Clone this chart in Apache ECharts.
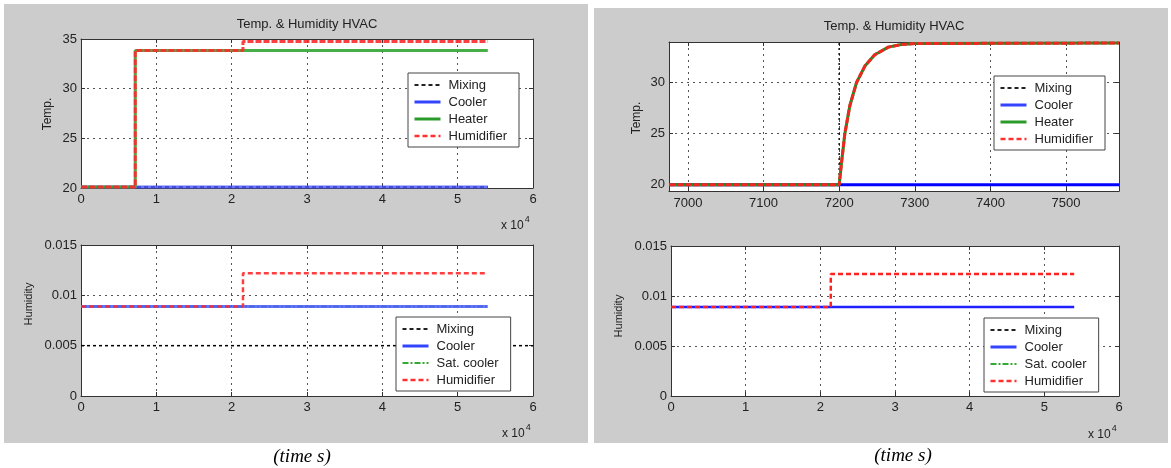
<!DOCTYPE html>
<html>
<head>
<meta charset="utf-8">
<script src="https://cdn.jsdelivr.net/npm/echarts@6/dist/echarts.min.js"></script>
<style>
html,body{margin:0;padding:0;background:#fff;}
#chart{width:1171px;height:468px;}
</style>
</head>
<body>
<div id="chart"></div>
<script>
// ---------- DATA ----------
// Left panel: full run (time in s)
const ltMixTime   = [0, 54000];
const ltMixTemp   = [20.1, 20.1];
const ltCoolTime  = [0, 54000];
const ltCoolTemp  = [20.1, 20.1];
const ltHeatTime  = [0, 7200, 7200, 54000];
const ltHeatTemp  = [20.1, 20.1, 33.85, 33.85];
const ltHumTime   = [0, 7200, 7200, 21500, 21500, 54000];
const ltHumTemp   = [20.1, 20.1, 33.85, 33.85, 34.75, 34.75];

const lbMixTime   = [0, 60000];
const lbMixHum    = [0.005, 0.005];
const lbCoolTime  = [0, 54000];
const lbCoolHum   = [0.0089, 0.0089];
const lbSatTime   = [0, 54000];
const lbSatHum    = [0.0089, 0.0089];
const lbHumTime   = [0, 21500, 21500, 54000];
const lbHumHum    = [0.0089, 0.0089, 0.0122, 0.0122];

// Right panel: zoom around heater start
const rtMixTime   = [6975, 7200, 7200, 7570];
const rtMixTemp   = [20.0, 20.0, 45, 45];
const rtCoolTime  = [6975, 7570];
const rtCoolTemp  = [20.0, 20.0];
const rtHeatTime  = [6975, 7200, 7203, 7207.5, 7214, 7223, 7234, 7247, 7265, 7282, 7300, 7570];
const rtHeatTemp  = [20.0, 20.0, 22.1, 25.0, 27.7, 30.0, 31.6, 32.7, 33.45, 33.7, 33.8, 33.85];
const rtHumTime   = [6975, 7200, 7203, 7207.5, 7214, 7223, 7234, 7247, 7265, 7282, 7300, 7570];
const rtHumTemp   = [20.0, 20.0, 22.1, 25.0, 27.7, 30.0, 31.6, 32.7, 33.45, 33.7, 33.8, 33.85];

const rbMixTime   = [0, 54000];
const rbMixHum    = [0.0089, 0.0089];
const rbCoolTime  = [0, 54000];
const rbCoolHum   = [0.0089, 0.0089];
const rbSatTime   = [0, 54000];
const rbSatHum    = [0.0089, 0.0089];
const rbHumTime   = [0, 21400, 21400, 54000];
const rbHumHum    = [0.0089, 0.0089, 0.0122, 0.0122];

// tick labels
const timeTicks1e4   = [0, 10000, 20000, 30000, 40000, 50000, 60000];
const zoomTimeTicks  = [7000, 7100, 7200, 7300, 7400, 7500];
const tempTicksLeft  = [20, 25, 30, 35];
const tempTicksRight = [20, 25, 30];
const humTicks       = [0, 0.005, 0.01, 0.015];

const titleText = 'Temp. & Humidity HVAC';
const legendTop = ['Mixing', 'Cooler', 'Heater', 'Humidifier'];
const legendBottom = ['Mixing', 'Cooler', 'Sat. cooler', 'Humidifier'];

// ---------- CHART ----------
const FONT = '"Liberation Sans", Arial, sans-serif';
const zip = (t, v) => t.map((x, i) => [x, v[i]]);
const chart = echarts.init(document.getElementById('chart'), null, {renderer: 'canvas'});

const grids = [
  {left: 81,  top: 39,  width: 452, height: 149},
  {left: 81,  top: 245, width: 452, height: 151},
  {left: 669, top: 42,  width: 450, height: 149},
  {left: 671, top: 246, width: 448, height: 150}
];

const gridLine = {show: true, lineStyle: {color: '#555', type: [2, 4], width: 1}};
const axLine = {show: true, onZero: false, lineStyle: {color: '#333', width: 1}};
const lblStyle = {color: '#222', fontFamily: FONT, fontSize: 13};

function xAxes(gi, min, max, ticks, fmt, margin) {
  const common = {
    type: 'value', gridIndex: gi, min: min, max: max,
    axisLine: axLine,
    axisTick: {show: true, inside: true, length: 4, customValues: ticks, lineStyle: {color: '#333'}},
  };
  return [
    Object.assign({}, common, {
      position: 'bottom',
      splitLine: gridLine,
      axisLabel: Object.assign({customValues: ticks, margin: margin, formatter: fmt}, lblStyle)
    }),
    Object.assign({}, common, {
      position: 'top',
      splitLine: {show: false},
      axisLabel: {show: false}
    })
  ];
}
function yAxes(gi, min, max, ticks, fmt) {
  const common = {
    type: 'value', gridIndex: gi, min: min, max: max,
    axisLine: axLine,
    axisTick: {show: true, inside: true, length: 4, customValues: ticks, lineStyle: {color: '#333'}},
  };
  return [
    Object.assign({}, common, {
      position: 'left',
      splitLine: gridLine,
      axisLabel: Object.assign({customValues: ticks, margin: 4, formatter: fmt}, lblStyle)
    }),
    Object.assign({}, common, {
      position: 'right',
      splitLine: {show: false},
      axisLabel: {show: false}
    })
  ];
}
const fmt1e4 = v => String(Math.round(v / 10000));
const fmtPlain = v => String(v);
const fmtHum = v => (v === 0 ? '0' : String(+v.toFixed(3)));

const xAxis = [].concat(
  xAxes(0, 0, 60000, timeTicks1e4, fmt1e4, 5),
  xAxes(1, 0, 60000, timeTicks1e4, fmt1e4, 5),
  xAxes(2, 6975, 7570, zoomTimeTicks, fmtPlain, 6),
  xAxes(3, 0, 60000, timeTicks1e4, fmt1e4, 5)
);
const yAxis = [].concat(
  yAxes(0, 20, 35, tempTicksLeft, fmtPlain),
  yAxes(1, 0, 0.015, humTicks, fmtHum),
  yAxes(2, 19.4, 33.95, tempTicksRight, fmtPlain),
  yAxes(3, 0, 0.015, humTicks, fmtHum)
);

function line(name, gi, data, color, width, type, opacity, z) {
  return {
    type: 'line', name: name, xAxisIndex: gi * 2, yAxisIndex: gi * 2,
    data: data, showSymbol: false, symbol: 'none', animation: false,
    lineStyle: {color: color, width: width, type: type, opacity: opacity == null ? 1 : opacity},
    itemStyle: {color: color},
    clip: true, z: z, silent: true
  };
}

const series = [
  // left top
  line('Mixing', 0, zip(ltMixTime, ltMixTemp), '#000', 2, [4, 3], 1, 2),
  line('Cooler', 0, zip(ltCoolTime, ltCoolTemp), '#4d5cff', 3, 'solid', 0.85, 3),
  line('Heater', 0, zip(ltHeatTime, ltHeatTemp), '#33a633', 3, 'solid', 0.9, 4),
  line('Humidifier', 0, zip(ltHumTime, ltHumTemp), '#ff2a2a', 3, [6, 2], 0.9, 5),
  // left bottom
  line('Mixing', 1, zip(lbMixTime, lbMixHum), '#000', 1.5, [3, 3], 1, 2),
  line('Sat. cooler', 1, zip(lbSatTime, lbSatHum), '#22aa22', 2, [6, 2, 2, 2], 1, 3),
  line('Cooler', 1, zip(lbCoolTime, lbCoolHum), '#4d5cff', 3, 'solid', 0.85, 4),
  line('Humidifier', 1, zip(lbHumTime, lbHumHum), '#ff2a2a', 2.5, [5, 3], 0.9, 5),
  // right top
  line('Mixing', 2, zip(rtMixTime, rtMixTemp), '#111', 1.5, [2, 3], 1, 2),
  line('Cooler', 2, zip(rtCoolTime, rtCoolTemp), '#0000ff', 3, 'solid', 1, 3),
  line('Heater', 2, zip(rtHeatTime, rtHeatTemp), '#228b22', 3, 'solid', 1, 4),
  line('Humidifier', 2, zip(rtHumTime, rtHumTemp), '#ff2020', 3, [6, 2], 0.95, 5),
  // right bottom
  line('Mixing', 3, zip(rbMixTime, rbMixHum), '#000', 2, [4, 3], 1, 2),
  line('Sat. cooler', 3, zip(rbSatTime, rbSatHum), '#119911', 2, [6, 2, 2, 2], 1, 3),
  line('Cooler', 3, zip(rbCoolTime, rbCoolHum), '#2020ff', 2.5, 'solid', 1, 4),
  line('Humidifier', 3, zip(rbHumTime, rbHumHum), '#ff2020', 2.5, [5, 3], 1, 5)
];

const legStyles = {
  'Mixing':      {color: '#222', width: 2, type: [4, 3]},
  'Cooler':      {color: '#3344ff', width: 3, type: 'solid'},
  'Heater':      {color: '#2a9a2a', width: 3, type: 'solid'},
  'Sat. cooler': {color: '#33aa33', width: 2, type: [6, 2, 2, 2]},
  'Humidifier':  {color: '#ff3030', width: 2.5, type: [5, 3]}
};
function legend(names, left, top) {
  return {
    show: true, orient: 'vertical', left: left, top: top,
    padding: [5, 12, 4, 5], itemGap: 3, itemWidth: 26, itemHeight: 12,
    backgroundColor: '#fff', borderColor: '#444', borderWidth: 1,
    selectedMode: false,
    textStyle: {fontFamily: FONT, fontSize: 13, color: '#222', lineHeight: 14, padding: [0, 0, 0, 3]},
    data: names.map(n => ({
      name: n,
      lineStyle: {color: legStyles[n].color, width: legStyles[n].width, type: legStyles[n].type, opacity: 1},
      itemStyle: {color: legStyles[n].color, opacity: 0}
    }))
  };
}

function sup10(x, y) {
  return {
    type: 'text', left: x, top: y, z: 10,
    style: {
      text: '{a|x 10}{b|4}',
      rich: {
        a: {fontFamily: FONT, fontSize: 12, fill: '#222', verticalAlign: 'bottom'},
        b: {fontFamily: FONT, fontSize: 9, fill: '#222', verticalAlign: 'top', padding: [0, 0, 8, 1]}
      }
    }
  };
}
function txt(text, x, y, size, rot, extra) {
  return Object.assign({
    type: 'text', x: x, y: y, rotation: rot || 0, z: 10,
    style: {text: text, fontFamily: FONT, fontSize: size, fill: '#222', align: 'center', verticalAlign: 'middle'}
  }, extra || {});
}

const graphic = [
  {type: 'rect', shape: {x: 4, y: 4, width: 584, height: 439}, style: {fill: '#cccccc'}, z: -10, silent: true},
  {type: 'rect', shape: {x: 594, y: 8, width: 574, height: 435}, style: {fill: '#cccccc'}, z: -10, silent: true},
  txt(titleText, 307, 24, 13),
  txt(titleText, 894, 26, 13),
  txt('Temp.', 48, 114, 12, Math.PI / 2),
  txt('Temp.', 637, 118, 12, Math.PI / 2),
  txt('Humidity', 29, 304, 11, Math.PI / 2),
  txt('Humidity', 619, 316, 11, Math.PI / 2),
  sup10(501, 215),
  sup10(502, 423),
  sup10(1088, 424),
  {type: 'text', x: 302, y: 457, z: 10, style: {text: '(time s)', fontFamily: '"Liberation Serif", "Times New Roman", serif', fontStyle: 'italic', fontSize: 19, fill: '#000', align: 'center', verticalAlign: 'middle'}},
  {type: 'text', x: 903, y: 456, z: 10, style: {text: '(time s)', fontFamily: '"Liberation Serif", "Times New Roman", serif', fontStyle: 'italic', fontSize: 19, fill: '#000', align: 'center', verticalAlign: 'middle'}}
];

chart.setOption({
  animation: false,
  backgroundColor: '#ffffff',
  grid: grids.map(g => Object.assign({show: true, backgroundColor: '#fff', borderWidth: 0, containLabel: false}, g)),
  xAxis: xAxis,
  yAxis: yAxis,
  legend: [
    legend(legendTop, 408, 73),
    legend(legendBottom, 396, 317),
    legend(legendTop, 994, 76),
    legend(legendBottom, 984, 318)
  ],
  graphic: graphic,
  series: series
});
</script>
</body>
</html>
